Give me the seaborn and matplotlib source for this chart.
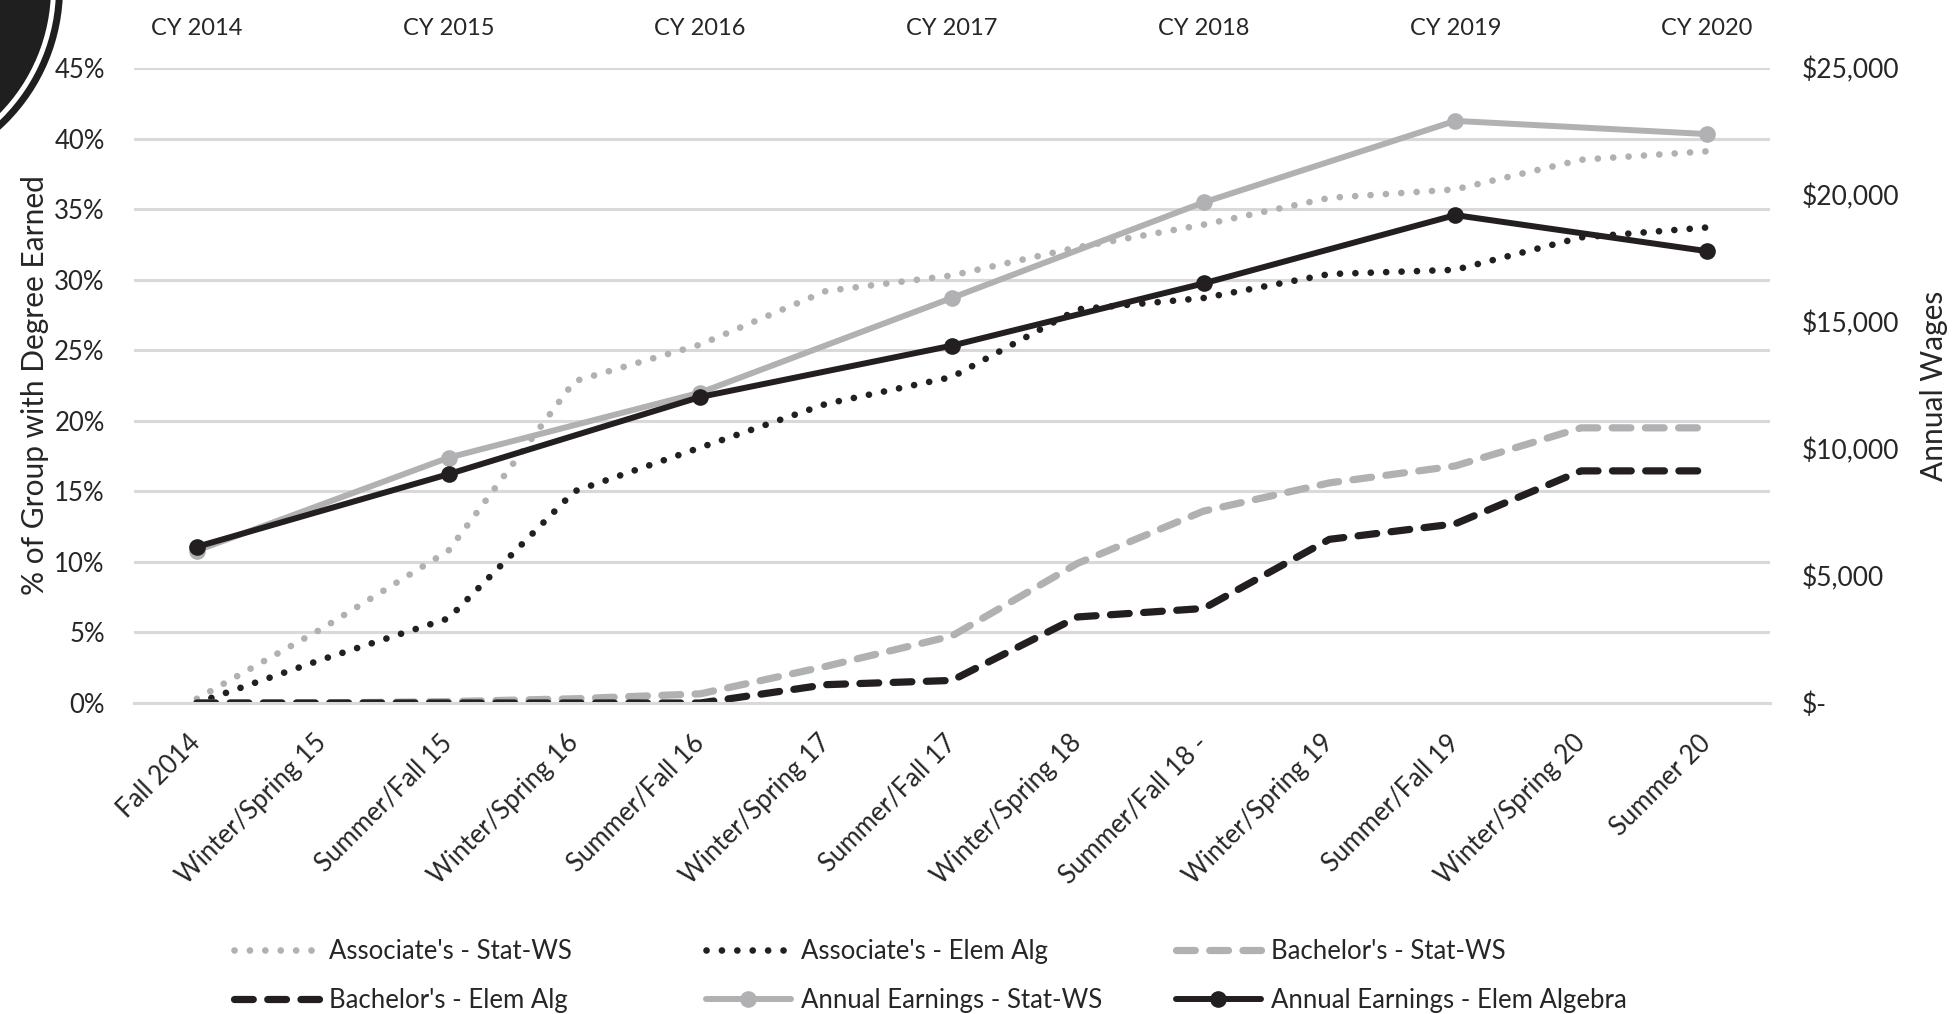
import numpy as np
import pandas as pd
import matplotlib
matplotlib.use("Agg")
import matplotlib.pyplot as plt
from matplotlib.patches import Circle
from matplotlib.ticker import FixedLocator, FuncFormatter
import seaborn as sns

# ---------- data ----------
terms = ["Fall 2014", "Winter/Spring 15", "Summer/Fall 15", "Winter/Spring 16",
         "Summer/Fall 16", "Winter/Spring 17", "Summer/Fall 17", "Winter/Spring 18",
         "Summer/Fall 18 -", "Winter/Spring 19", "Summer/Fall 19", "Winter/Spring 20",
         "Summer 20"]
cal_years = ["CY 2014", "CY 2015", "CY 2016", "CY 2017", "CY 2018", "CY 2019", "CY 2020"]

# % of group with degree earned
assoc_stat = [0.3, 5.3, 10.8, 22.8, 25.4, 29.2, 30.3, 32.3, 33.9, 35.8, 36.4, 38.5, 39.1]
assoc_elem = [0.0, 3.1, 6.0, 15.0, 18.1, 21.2, 23.1, 27.9, 28.7, 30.4, 30.7, 33.0, 33.7]
bach_stat = [0.0, 0.0, 0.1, 0.3, 0.65, 2.6, 4.75, 9.9, 13.6, 15.6, 16.8, 19.5, 19.5]
bach_elem = [0.0, 0.0, 0.0, 0.0, 0.0, 1.3, 1.6, 6.1, 6.7, 11.6, 12.7, 16.45, 16.45]

# annual wages, one value per calendar year (every other term)
earn_stat = [6000, 9660, 12220, 15950, 19710, 22920, 22400]
earn_elem = [6150, 9010, 12050, 14070, 16520, 19210, 17790]

GRAY = "#b1b1b3"
BLACK = "#231f20"
GRID = "#d9d9d9"
TEXT = "#262626"

x = np.arange(len(terms))
x_year = x[::2]

sns.set_style("white")
plt.rcParams["font.family"] = ["Lato", "DejaVu Sans"]
plt.rcParams["text.color"] = TEXT
plt.rcParams["axes.labelcolor"] = TEXT
plt.rcParams["xtick.color"] = TEXT
plt.rcParams["ytick.color"] = TEXT

fig = plt.figure(figsize=(19.52, 10.14), dpi=100)
ax = fig.add_axes([0.0686, 0.3067, 0.8381, 0.6262])
ax2 = ax.twinx()

dot = (0, (0.01, 2.3))
dash = (0, (2.6, 2.0))

# left axis: degree percentages
sns.lineplot(x=x, y=assoc_stat, ax=ax, color=GRAY, linewidth=4.8, linestyle=dot,
             dash_capstyle="round", label="Associate's - Stat-WS")
sns.lineplot(x=x, y=assoc_elem, ax=ax, color=BLACK, linewidth=4.8, linestyle=dot,
             dash_capstyle="round", label="Associate's - Elem Alg")
sns.lineplot(x=x, y=bach_stat, ax=ax, color=GRAY, linewidth=5.2, linestyle=dash,
             dash_capstyle="round", label="Bachelor's - Stat-WS")
sns.lineplot(x=x, y=bach_elem, ax=ax, color=BLACK, linewidth=5.2, linestyle=dash,
             dash_capstyle="round", label="Bachelor's - Elem Alg")

# right axis: earnings
sns.lineplot(x=x_year, y=earn_stat, ax=ax2, color=GRAY, linewidth=4.3, marker="o",
             markersize=12, markeredgewidth=0, label="Annual Earnings - Stat-WS")
sns.lineplot(x=x_year, y=earn_elem, ax=ax2, color=BLACK, linewidth=4.3, marker="o",
             markersize=12, markeredgewidth=0, label="Annual Earnings - Elem Algebra")

# ---------- axes formatting ----------
ax.set_xlim(-0.5, len(terms) - 0.5)
ax.set_ylim(0, 45)
ax2.set_ylim(0, 25000)
ax.set_yticks(np.arange(0, 46, 5))
ax2.set_yticks(np.arange(0, 25001, 5000))
ax.yaxis.set_major_formatter(FuncFormatter(lambda v, p: f"{v:.0f}%"))
ax2.yaxis.set_major_formatter(
    FuncFormatter(lambda v, p: "$-" if v == 0 else f"${v:,.0f}"))

ax.grid(axis="y", color=GRID, lw=2.2)
ax.set_axisbelow(True)
for a in (ax, ax2):
    for s in a.spines.values():
        s.set_visible(False)
ax.spines["bottom"].set_visible(True)
ax.spines["bottom"].set_color(GRID)
ax.spines["bottom"].set_linewidth(2.2)

ax.set_xticks(x)
ax.set_xticklabels(terms, rotation=45, ha="right", va="center",
                   rotation_mode="anchor", fontsize=18.5)
ax.xaxis.set_minor_locator(FixedLocator(np.arange(-0.5, len(terms), 1.0)))
ax.tick_params(axis="x", which="major", length=0, pad=26)
ax.tick_params(axis="x", which="minor", length=8, width=2.2, color=GRID)
ax.tick_params(axis="y", length=0, pad=21, labelsize=18.5)
ax2.tick_params(axis="y", length=0, pad=23, labelsize=19)

# calendar years on top
top = ax.secondary_xaxis("top")
top.set_xticks(x_year)
top.set_xticklabels(cal_years, fontsize=17)
top.tick_params(length=0, pad=21)
top.spines["top"].set_visible(False)

ax.set_xlabel("")
ax.set_ylabel("% of Group with Degree Earned", fontsize=21.5)
ax.yaxis.set_label_coords(-0.052, 0.5)
ax2.set_ylabel("Annual Wages", fontsize=21.5)
ax2.yaxis.set_label_coords(1.092, 0.5)

# ---------- legend: three columns placed like the reference ----------
h1, l1 = ax.get_legend_handles_labels()
h2, l2 = ax2.get_legend_handles_labels()
ax.get_legend().remove()
ax2.get_legend().remove()
handles = h1 + h2
labels = l1 + l2
columns = [[0, 3], [1, 4], [2, 5]]
col_x = [234, 706, 1176]
for idx, cx in zip(columns, col_x):
    fig.legend([handles[i] for i in idx], [labels[i] for i in idx],
               loc="center left", bbox_to_anchor=(cx / 1952, 1 - 976 / 1014),
               frameon=False, fontsize=18.5, handlelength=3.3, handletextpad=0.4,
               labelspacing=0.9, borderpad=0, borderaxespad=0)

# decorative page corner badge
for r, c in [(1.91, "#1f1f1f"), (1.84, "white"), (1.79, "#1f1f1f")]:
    fig.add_artist(Circle((-1.28, 10.26), r, transform=fig.dpi_scale_trans,
                          facecolor=c, edgecolor="none", zorder=10))

fig.savefig("out.png", dpi=100)
plt.close(fig)
